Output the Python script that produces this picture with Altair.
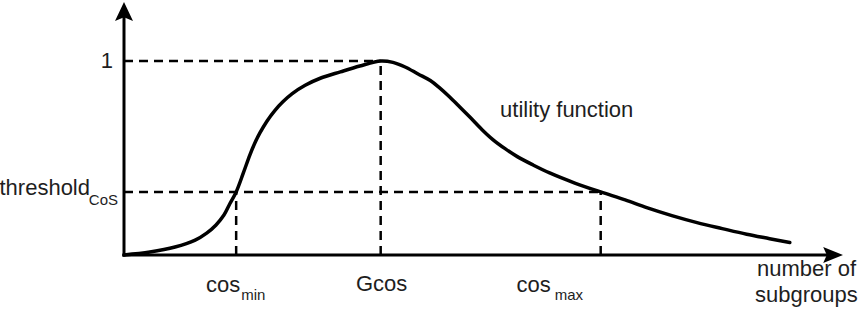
import altair as alt
import pandas as pd

# ---- data ----
curve_x = [0, 3.6, 7.1, 9.9, 11.5, 12.8, 13.9, 14.7, 15.6, 16.6, 17.5, 18.2, 18.9,
           19.9, 21.0, 22.1, 23.4, 25.2, 27.3, 30.1, 32.8, 35.7, 37.4, 39.1, 40.9,
           42.6, 43.9, 45.3, 46.7, 48.1, 49.8, 51.3, 53.0, 54.7, 56.9, 59.2, 62.7,
           66.3, 69.7, 72.7, 76.2, 79.7, 83.2, 86.6, 89.8, 92.6]
curve_y = [0, 0.015, 0.041, 0.077, 0.113, 0.155, 0.206, 0.263, 0.325, 0.423, 0.515,
           0.577, 0.629, 0.691, 0.746, 0.790, 0.832, 0.875, 0.911, 0.944, 0.974, 1.0,
           0.993, 0.969, 0.933, 0.899, 0.861, 0.814, 0.763, 0.711, 0.646, 0.595,
           0.548, 0.507, 0.464, 0.423, 0.371, 0.325, 0.284, 0.244, 0.203, 0.167,
           0.136, 0.107, 0.084, 0.064]

y_one = 1.0
threshold = 0.325
cos_min = 15.6
gcos = 35.7
cos_max = 66.3
x_end = 100
y_end = 1.304

FONT = "Liberation Sans"
TXT = "#1e1e1e"

xs = alt.Scale(domain=[0, x_end], nice=False, zero=False)
ys = alt.Scale(domain=[0, y_end], nice=False, zero=False)


def X(f="x"):
    return alt.X(f"{f}:Q", scale=xs, axis=None)


def Y(f="y"):
    return alt.Y(f"{f}:Q", scale=ys, axis=None)


# curve
curve_df = pd.DataFrame({"x": curve_x, "y": curve_y})
curve = alt.Chart(curve_df).mark_line(
    color="black", strokeWidth=3.5, interpolate="catmull-rom", strokeCap="round",
    strokeJoin="round"
).encode(x=X(), y=Y())

# dashed guide lines
guides_df = pd.DataFrame({
    "x": [0, 0, cos_min, gcos, cos_max],
    "x2": [gcos, cos_max, cos_min, gcos, cos_max],
    "y": [y_one, threshold, 0, 0, 0],
    "y2": [y_one, threshold, threshold, y_one, threshold],
})
guides = alt.Chart(guides_df).mark_rule(
    color="black", strokeWidth=2.5, strokeDash=[9, 6]
).encode(x=X(), x2="x2:Q", y=Y(), y2="y2:Q")

# axis lines
axes_df = pd.DataFrame({
    "x": [0, 0], "x2": [0, x_end * 0.985],
    "y": [0, 0], "y2": [y_end * 0.96, 0],
})
axes = alt.Chart(axes_df).mark_rule(
    color="black", strokeWidth=3, strokeCap="square"
).encode(x=X(), x2="x2:Q", y=Y(), y2="y2:Q")

# arrow heads
up_df = pd.DataFrame({"x": [0], "y": [y_end]})
arrow_up = alt.Chart(up_df).mark_point(
    shape="M0,0L1,2.1L0,1.7L-1,2.1Z", size=324, filled=True, color="black",
    opacity=1, strokeWidth=0
).encode(x=X(), y=Y())
right_df = pd.DataFrame({"x": [x_end], "y": [0]})
arrow_right = alt.Chart(right_df).mark_point(
    shape="M0,0L-2.2,-0.9L-1.8,0L-2.2,0.9Z", size=324, filled=True, color="black",
    opacity=1, strokeWidth=0
).encode(x=X(), y=Y())


def label(x, y, text, size=22, align="left", baseline="alphabetic", dx=0, dy=0):
    df = pd.DataFrame({"x": [x], "y": [y], "t": [text]})
    return alt.Chart(df).mark_text(
        font=FONT, fontSize=size, color=TXT, align=align, baseline=baseline,
        dx=dx, dy=dy
    ).encode(x=X(), y=Y(), text="t:N")


labels = [
    label(0, y_one, "1", align="right", baseline="middle", dx=-11, dy=0),
    label(0, threshold, "threshold", align="right", dx=-34, dy=3),
    label(0, threshold, "CoS", size=15, align="right", dx=-6, dy=13),
    label(cos_min, 0, "cos", align="right", dx=4, dy=37),
    label(cos_min, 0, "min", size=15, align="left", dx=5, dy=45),
    label(gcos, 0, "Gcos", align="center", dx=1, dy=36),
    label(cos_max, 0, "cos", align="right", dx=-50, dy=37),
    label(cos_max, 0, "max", size=15, align="left", dx=-46, dy=45),
    label(52.3, 0.711, "utility function", align="left"),
    label(x_end, 0, "number of", align="left", dx=-86, dy=21),
    label(x_end, 0, "subgroups", align="left", dx=-88, dy=47),
]

chart = alt.layer(guides, curve, axes, arrow_up, arrow_right, *labels).properties(
    width=719, height=253,
    padding={"left": 124, "top": 2, "right": 18, "bottom": 76},
    autosize=alt.AutoSizeParams(type="none"),
    background="white",
).configure_view(stroke=None)

chart.save("out.html", embed_options={"renderer": "svg", "actions": False})
